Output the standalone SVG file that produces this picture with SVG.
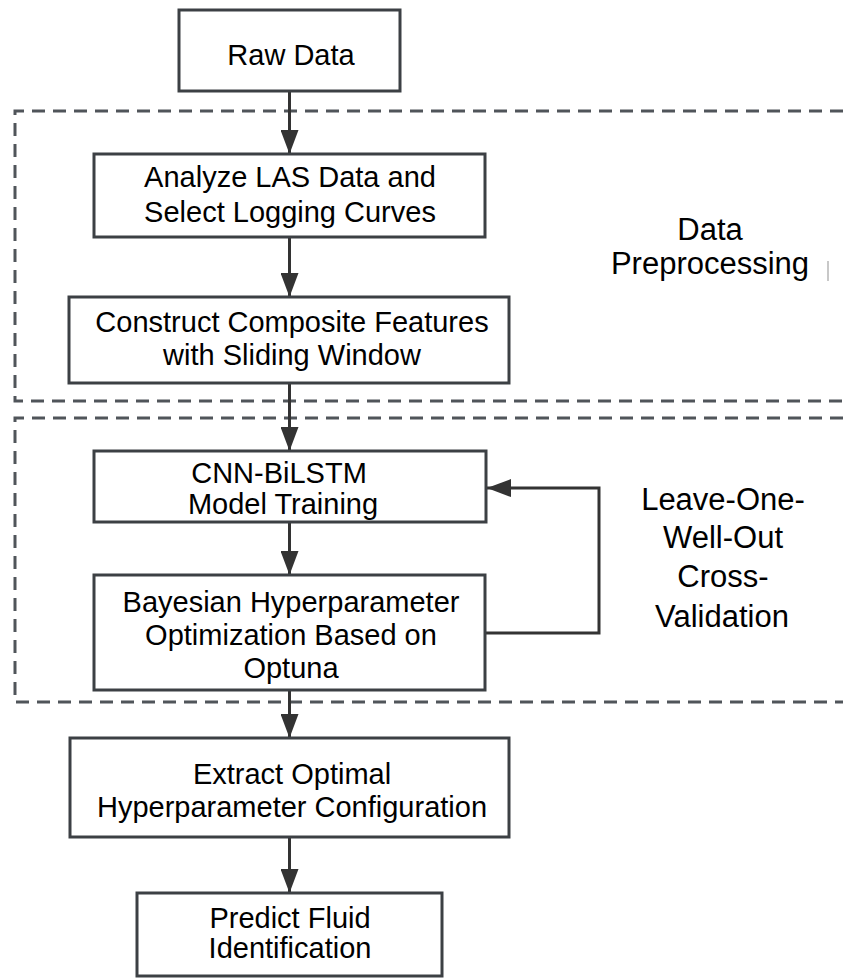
<svg xmlns="http://www.w3.org/2000/svg" width="843" height="978" viewBox="0 0 843 978">
<style>
.bg{fill:#ffffff}
.box{fill:#ffffff;stroke:#3c4044;stroke-width:3}
.dash{fill:none;stroke:#50555a;stroke-width:3;stroke-dasharray:13 8}
.t{font-family:"Liberation Sans",Arial,sans-serif;font-size:29px;fill:#000;text-anchor:middle}
.lbl{font-family:"Liberation Sans",Arial,sans-serif;font-size:31px;fill:#000;text-anchor:middle}
.conn{fill:none;stroke:#333333;stroke-width:3}
</style>
<defs>
<marker id="ah" markerUnits="userSpaceOnUse" markerWidth="24" markerHeight="18" refX="24" refY="9" orient="auto">
<path d="M0,0 L24,9 L0,18 Z" fill="#333333"/>
</marker>
</defs>
<rect class="bg" x="0" y="0" width="843" height="978"/>
<g id="group-preprocessing">
<path class="dash" d="M843,111 H15 V401 H843"/>
<line x1="828" y1="261" x2="828" y2="281" stroke="#c8c8c8" stroke-width="2"/>
<text class="lbl" x="710" y="240">Data</text>
<text class="lbl" x="710" y="274">Preprocessing</text>
</g>
<g id="group-lowo">
<path class="dash" d="M843,418 H15 V702 H843"/>
<text class="lbl" x="723" y="510">Leave-One-</text>
<text class="lbl" x="723" y="548">Well-Out</text>
<text class="lbl" x="723" y="587">Cross-</text>
<text class="lbl" x="722" y="627">Validation</text>
</g>
<g id="connectors">
<line class="conn" x1="289.5" y1="91" x2="289.5" y2="154" marker-end="url(#ah)"/>
<line class="conn" x1="289.5" y1="237" x2="289.5" y2="297" marker-end="url(#ah)"/>
<line class="conn" x1="289.5" y1="383" x2="289.5" y2="451" marker-end="url(#ah)"/>
<line class="conn" x1="289.5" y1="522" x2="289.5" y2="575" marker-end="url(#ah)"/>
<line class="conn" x1="289.5" y1="690" x2="289.5" y2="738" marker-end="url(#ah)"/>
<line class="conn" x1="289.5" y1="837" x2="289.5" y2="893" marker-end="url(#ah)"/>
<polyline class="conn" points="485,633 599,633 599,488 487,488" marker-end="url(#ah)"/>
</g>
<g id="node-raw">
<rect class="box" x="179" y="10" width="221" height="81"/>
<text class="t" x="291" y="65">Raw Data</text>
</g>
<g id="node-analyze">
<rect class="box" x="94" y="154" width="391" height="83"/>
<text class="t" x="290" y="187">Analyze LAS Data and</text>
<text class="t" x="290" y="222">Select Logging Curves</text>
</g>
<g id="node-construct">
<rect class="box" x="69" y="297" width="440" height="86"/>
<text class="t" x="292" y="332">Construct Composite Features</text>
<text class="t" x="292" y="365">with Sliding Window</text>
</g>
<g id="node-cnn">
<rect class="box" x="94" y="451" width="392" height="71"/>
<text class="t" x="279" y="483">CNN-BiLSTM</text>
<text class="t" x="283" y="514">Model Training</text>
</g>
<g id="node-bayes">
<rect class="box" x="94" y="575" width="391" height="115"/>
<text class="t" x="291" y="612">Bayesian Hyperparameter</text>
<text class="t" x="291" y="645">Optimization Based on</text>
<text class="t" x="291" y="678">Optuna</text>
</g>
<g id="node-extract">
<rect class="box" x="70" y="738" width="439" height="99"/>
<text class="t" x="292" y="784">Extract Optimal</text>
<text class="t" x="292" y="817">Hyperparameter Configuration</text>
</g>
<g id="node-predict">
<rect class="box" x="137" y="893" width="305" height="83"/>
<text class="t" x="290" y="928">Predict Fluid</text>
<text class="t" x="290" y="958">Identification</text>
</g>
</svg>
